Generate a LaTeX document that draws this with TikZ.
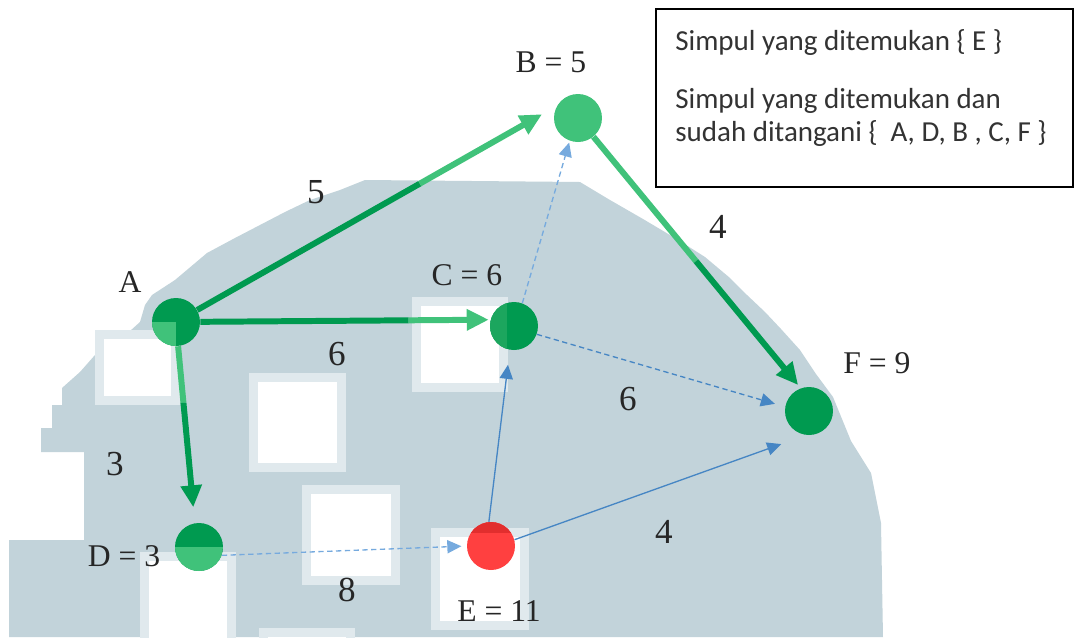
\documentclass[tikz,border=0pt]{standalone}
\usepackage{fontspec}
\setmainfont{Liberation Serif}
\newfontfamily\boxfont{Carlito}
\usetikzlibrary{arrows.meta,calc}
\definecolor{dkgreen}{RGB}{0,154,80}
\definecolor{ltgreen}{RGB}{64,194,122}
\definecolor{midgreen}{RGB}{28,166,94}
\definecolor{redfill}{RGB}{255,64,64}
\definecolor{redtop}{RGB}{226,46,46}
\definecolor{edgeblue}{RGB}{70,134,196}
\definecolor{paleblue}{RGB}{118,170,222}
\definecolor{wmgray}{RGB}{194,211,218}
\definecolor{wmedge}{RGB}{224,233,237}

\begin{document}
\begin{tikzpicture}[x=0.02cm, y=-0.02cm,
    vtx/.style={circle, inner sep=0pt, minimum size=0.96cm},
    gline/.style={line width=3.4pt},
    gtip/.style={-{Triangle[length=12.5pt, width=11.5pt]}},
    bline/.style={line width=0.75pt, edgeblue, -{Triangle[length=8pt, width=7.5pt]}},
    pline/.style={line width=0.75pt, paleblue, dash pattern=on 3pt off 2pt, -{Triangle[length=8pt, width=7.5pt]}},
    vlabel/.style={font=\fontsize{18}{20}\selectfont, text=black!85, anchor=base, inner sep=0pt},
    wlabel/.style={font=\fontsize{20}{22}\selectfont, text=black!85, anchor=base, inner sep=0pt},
    boxtext/.style={font=\boxfont\fontsize{16.5}{19}\selectfont, text=black!80, anchor=base west, inner sep=0pt}]
    \useasboundingbox (0,0) rectangle (1080,637);
    \fill [white] (0,0) rectangle (1080,637);
    \fill [wmgray] (9,637) -- (9,540) -- (84,540) -- (84,452) -- (41,452) -- (41,428) -- (52,428)
        -- (52,405) -- (62,405) -- (62,388) -- (80,372) -- (95,355) -- (120,340) -- (140,322)
        -- (145,305) -- (152,295) -- (175,280) -- (207,253) -- (235,238) -- (260,225) -- (285,212)
        -- (310,200) -- (340,190) -- (365,180) -- (580,182) -- (610,200) -- (643,219) -- (675,238)
        -- (705,257) -- (730,278) -- (747,295) -- (765,312) -- (781,329) -- (800,350) -- (816,374)
        -- (833,397) -- (851,441) -- (871,473) -- (881,523) -- (883,637) -- cycle;
    \foreach \xa/\ya/\xb/\yb in {95/330/180/405, 249/373/346/472, 412/297/508/392, 302/485/400/585,
        431/528/529/630, 140/552/236/660, 259/628/355/660} {
        \fill [wmedge] (\xa,\ya) rectangle (\xb,\yb);
        \fill [white] (\xa+9,\ya+9) rectangle (\xb-9,\yb-9);
    }

    \node [vtx, fill=dkgreen, path picture={\fill [ltgreen] (path picture bounding box.center) rectangle (path picture bounding box.south west);}] (A) at (176,322) {};
    \node [vtx, fill=ltgreen] (B) at (578,118) {};
    \node [vtx, fill=dkgreen, path picture={\fill [midgreen] (path picture bounding box.north west) rectangle ([xshift=-4pt]path picture bounding box.south);}] (C) at (514,326) {};
    \node [vtx, fill=dkgreen, path picture={\fill [ltgreen] (path picture bounding box.west) rectangle (path picture bounding box.south east);}] (D) at (199,547) {};
    \node [vtx, fill=redfill, path picture={\fill [redtop] (path picture bounding box.north west) rectangle ([yshift=-6pt]path picture bounding box.north east);}] (E) at (491,546) {};
    \node [vtx, fill=dkgreen] (F) at (809,411) {};

    \node [vlabel] (labA) at (130,292) {A};
    \node [vlabel] (labB) at (551,72) {B = 5};
    \node [vlabel] (labC) at (467,285) {C = 6};
    \node [vlabel] (labD) at (124,566) {D = 3};
    \node [vlabel] (labE) at (499,621) {E = 11};
    \node [vlabel] (labF) at (877,373) {F = 9};

    \coordinate (ab) at ($(A)!0.64!(B.150)$);
    \coordinate (ac) at ($(A)!0.74!(C.165)$);
    \coordinate (ad) at ($(A.-85)!0.32!(D.100)$);
    \coordinate (bf) at ($(B)!0.53!(F.110)$);
    \draw [gline, dkgreen] (A) -- (ab);
    \draw [gline, gtip, ltgreen, shorten >=9.7pt] (ab) -- (B.150);
    \draw [gline, dkgreen] (A) -- (ac);
    \draw [gline, gtip, ltgreen, shorten >=1pt] (ac) -- (C.165);
    \draw [gline, ltgreen] (A.-85) -- (ad);
    \draw [gline, gtip, dkgreen, shorten >=9pt] (ad) -- (D.100);
    \draw [gline, ltgreen] (B) -- (bf);
    \draw [gline, gtip, dkgreen, shorten >=2.3pt] (bf) -- (F.110);

    \draw [pline, shorten >=1pt] (C.70) -- (B.250);
    \draw [pline, edgeblue, shorten >=6pt] (C.-20) -- (F.170);
    \draw [pline, shorten >=3pt] (D.-20) -- (E.180);
    \draw [bline, shorten >=8.5pt] (E.95) -- (C.-100);
    \draw [bline, shorten >=15pt] (E.15) -- (F.263);

    \node [wlabel] (w5) at (316,203) {5};
    \node [wlabel] (w4a) at (718,238) {4};
    \node [wlabel] (w6a) at (337,365) {6};
    \node [wlabel] (w6b) at (628,410) {6};
    \node [wlabel] (w3) at (115,475) {3};
    \node [wlabel] (w4b) at (664,543) {4};
    \node [wlabel] (w8) at (347,601) {8};

    \node [draw, line width=0.9pt, fill=white, minimum width=8.34cm, minimum height=3.56cm, anchor=north west] (info) at (655,8) {};
    \node [boxtext] (found) at (675,50) {Simpul yang ditemukan \{ E \}};
    \node [boxtext] (doneA) at (675,108) {Simpul yang ditemukan dan};
    \node [boxtext] (doneB) at (675,141) {sudah ditangani \{\ \ A, D, B , C, F \}};
\end{tikzpicture}
\end{document}
